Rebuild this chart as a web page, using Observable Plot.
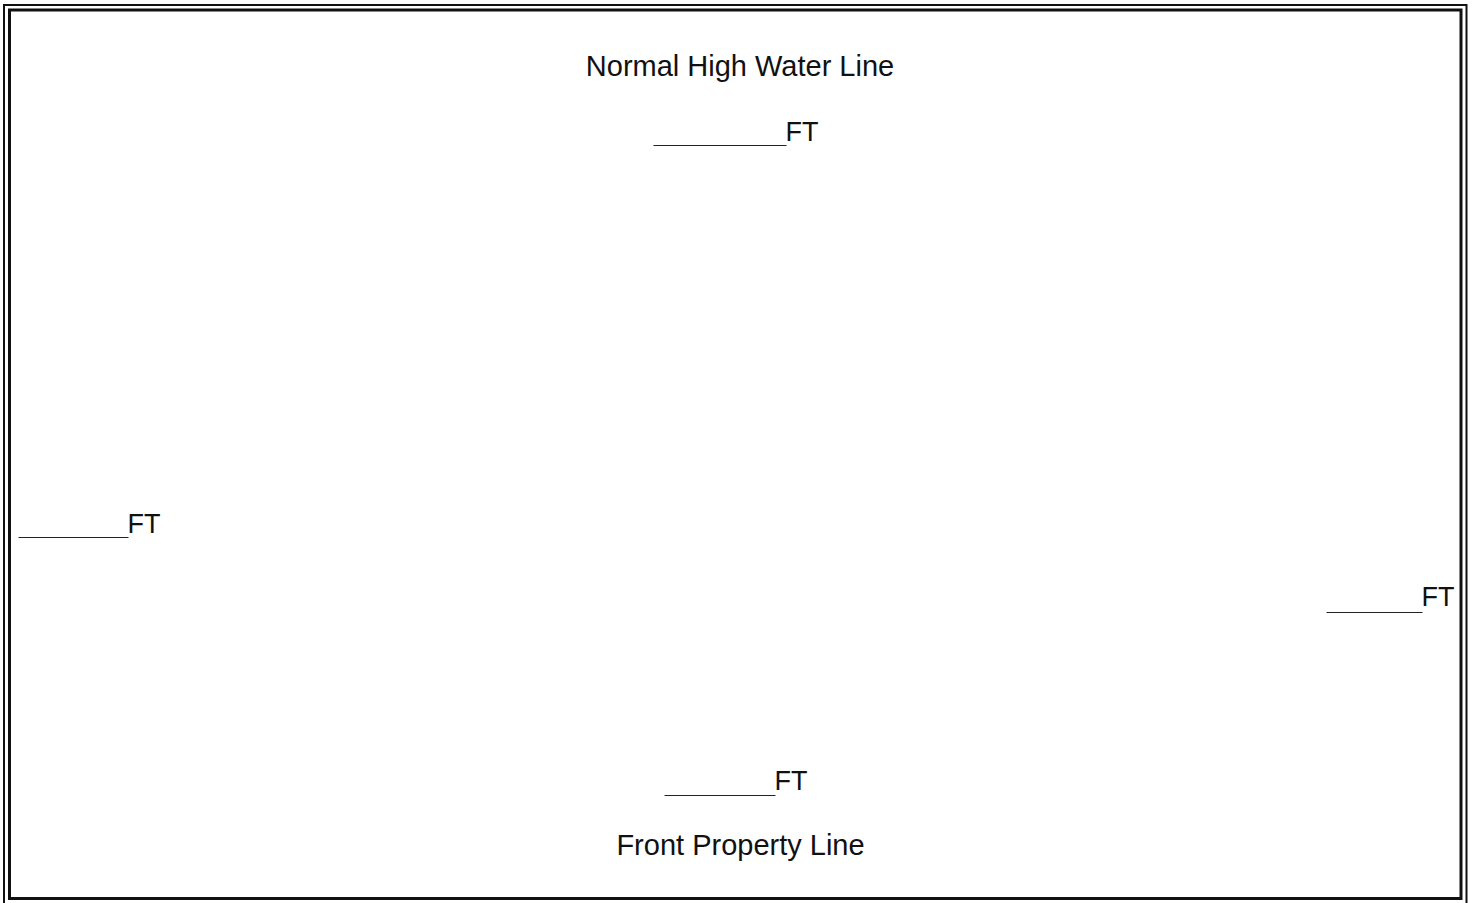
<!DOCTYPE html>
<html>
<head>
<meta charset="utf-8">
<script src="https://cdn.jsdelivr.net/npm/d3@7"></script>
<script src="https://cdn.jsdelivr.net/npm/@observablehq/plot@0.6"></script>
<style>
  html, body { margin: 0; padding: 0; background: #fff; overflow: hidden; }
  #chart svg { display: block; }
</style>
</head>
<body>
<div id="chart"></div>
<script>
// Labels of the site diagram
const titles = ["Normal High Water Line", "Front Property Line"];
const titleX = [739.5, 740];
const titleY = [75, 854];

// Blank "____ FT" fields: top, left, right, bottom
const fields = ["top", "left", "right", "bottom"];
const fieldX1 = [653, 18, 1326, 664];
const fieldX2 = [786, 128, 1422, 775];
const fieldLineY = [145, 537, 612, 795];
const fieldTextY = [140, 532, 605, 789];
const unit = "FT";

// Double border frames: outer (thin) and inner (thick)
const frames = ["outer", "inner"];
const frameX1 = [4, 9.5];
const frameX2 = [1466.5, 1461];
const frameY1 = [5, 10];
const frameY2 = [906, 898.5];
const frameW = [2, 3];

const W = 1476, H = 903;
const font = "'Liberation Sans', Arial, Helvetica, sans-serif";

const titleData = titles.map((t, i) => ({t, x: titleX[i], y: titleY[i]}));
const fieldData = fields.map((f, i) => ({f, x1: fieldX1[i], x2: fieldX2[i], ly: fieldLineY[i], ty: fieldTextY[i]}));
const frameData = frames.map((f, i) => ({f, x1: frameX1[i], x2: frameX2[i], y1: frameY1[i], y2: frameY2[i], w: frameW[i]}));

const plot = Plot.plot({
  width: W,
  height: H,
  margin: 0,
  x: {domain: [0, W], axis: null},
  y: {domain: [0, H], range: [0, H], axis: null},
  style: {fontFamily: font, background: "#fff", color: "#111"},
  marks: [
    ...frameData.map(d => Plot.rect([d], {
      x1: "x1", x2: "x2", y1: "y1", y2: "y2",
      fill: "none", stroke: "#111", strokeWidth: d.w
    })),
    Plot.link(fieldData, {
      x1: "x1", x2: "x2", y1: "ly", y2: "ly",
      stroke: "#222", strokeWidth: 1.2
    }),
    Plot.text(fieldData, {
      x: d => d.x2 - 1, y: "ty", text: () => unit,
      textAnchor: "start", lineAnchor: "bottom",
      fontSize: 27, fill: "#111"
    }),
    Plot.text(titleData, {
      x: "x", y: "y", text: "t",
      textAnchor: "middle", lineAnchor: "bottom",
      fontSize: 29, fill: "#111"
    })
  ]
});
document.getElementById("chart").append(plot);
</script>
</body>
</html>
